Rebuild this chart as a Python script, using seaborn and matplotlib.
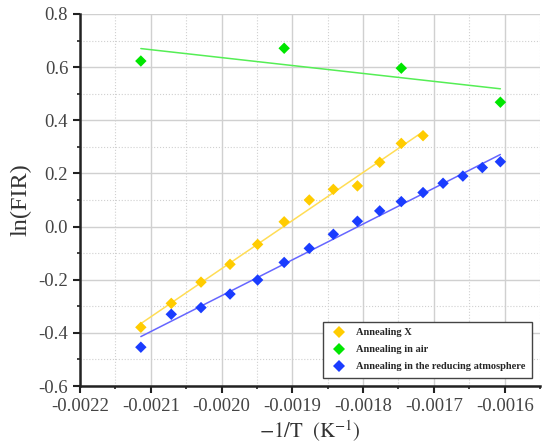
import numpy as np
import pandas as pd
import matplotlib
matplotlib.use("Agg")
import matplotlib.pyplot as plt
from matplotlib.ticker import MultipleLocator
import seaborn as sns

# valeurs
x_x = [-0.002114, -0.002071, -0.002029, -0.001988, -0.001949, -0.0019115,
       -0.001876, -0.001842, -0.001808, -0.0017765, -0.001746, -0.0017153]
y_x = [-0.379, -0.289, -0.209, -0.142, -0.067, 0.018,
       0.100, 0.140, 0.153, 0.242, 0.313, 0.342]

x_air = [-0.002114, -0.0019115, -0.001746, -0.001606]
y_air = [0.623, 0.671, 0.596, 0.468]

x_red = [-0.002114, -0.002071, -0.002029, -0.001988, -0.001949, -0.0019115,
         -0.001876, -0.001842, -0.001808, -0.0017765, -0.001746, -0.0017153,
         -0.001687, -0.001659, -0.0016315, -0.001606]
y_red = [-0.454, -0.330, -0.305, -0.254, -0.201, -0.135,
         -0.082, -0.029, 0.020, 0.059, 0.094, 0.128,
         0.163, 0.190, 0.222, 0.244]

labels = ['Annealing X', 'Annealing in air', 'Annealing in the reducing atmosphere']
colors = ['#FFCC00', '#00E600', '#1A3CFF']
line_colors = ['#FFDD55', '#55EE55', '#6666FF']

df = pd.DataFrame({
    'x': x_x + x_air + x_red,
    'y': y_x + y_air + y_red,
    'serie': [labels[0]] * len(x_x) + [labels[1]] * len(x_air) + [labels[2]] * len(x_red),
})

sns.set_style('white')
plt.rcParams['font.family'] = ['Liberation Serif', 'DejaVu Serif']
plt.rcParams['mathtext.fontset'] = 'stix'
plt.rcParams['axes.unicode_minus'] = False

fig = plt.figure(figsize=(5.43, 4.44), dpi=100)
ax = fig.add_axes([0.1473, 0.1306, 0.8472, 0.8379])

# droites de régression
for lab, lc in zip(labels, line_colors):
    sub = df[df['serie'] == lab]
    sns.regplot(data=sub, x='x', y='y', scatter=False, ci=None, ax=ax,
                line_kws={'color': lc, 'linewidth': 1.1})

sns.scatterplot(data=df, x='x', y='y', hue='serie', hue_order=labels,
                palette=colors, marker='D', s=34, linewidth=0, ax=ax, zorder=3)

ax.set_xlim(-0.0022, -0.00155)
ax.set_ylim(-0.6, 0.8)
ax.xaxis.set_major_locator(MultipleLocator(0.0001))
ax.xaxis.set_minor_locator(MultipleLocator(0.00005))
ax.yaxis.set_major_locator(MultipleLocator(0.2))
ax.yaxis.set_minor_locator(MultipleLocator(0.1))
ax.xaxis.set_major_formatter(matplotlib.ticker.FuncFormatter(lambda v, p: f'{v:.4f}'))
ax.yaxis.set_major_formatter(matplotlib.ticker.FuncFormatter(lambda v, p: f'{v:.1f}'))

ax.grid(which='major', color='#d0d0d0', linewidth=1.0, linestyle='-')
ax.grid(which='minor', color='#d0d0d0', linewidth=0.8, linestyle=':')
ax.set_axisbelow(True)

for s in ['top', 'right']:
    ax.spines[s].set_visible(False)
for s in ['left', 'bottom']:
    ax.spines[s].set_color('#222222')
    ax.spines[s].set_linewidth(1.8)

ax.tick_params(which='major', direction='out', length=5, width=1.5,
               color='#222222', labelsize=13.5, labelcolor='#444444',
               left=True, bottom=True)
ax.tick_params(which='minor', direction='out', length=2.5, width=1.2,
               color='#222222', left=True, bottom=True)

ax.set_xlabel('$-1/\\mathrm{T}\\ \\ (\\mathrm{K}^{-1})$', fontsize=15, color='#333333', labelpad=3)
ax.set_ylabel('ln(FIR)', fontsize=17.5, color='#333333', labelpad=5)

leg = ax.legend(loc='lower right', frameon=True, fancybox=False,
                edgecolor='#444444', framealpha=1, labelspacing=0.75,
                handletextpad=0.6, borderaxespad=0.8, markerscale=1.0,
                borderpad=0.6, prop={'weight': 'bold', 'size': 7.5})
leg.get_frame().set_linewidth(1.0)

fig.savefig('out.png', dpi=100)
